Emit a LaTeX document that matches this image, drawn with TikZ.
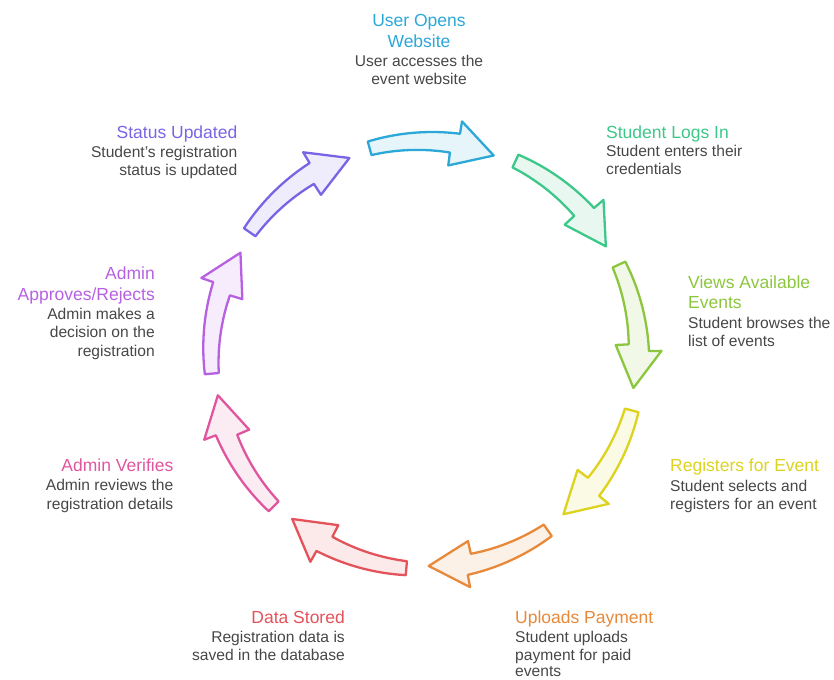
\documentclass[tikz,border=0pt]{standalone}
\usepackage{fontspec}
\setmainfont{Liberation Sans}
\definecolor{cBlue}{HTML}{2BA8D8}
\definecolor{cGreen}{HTML}{3DC789}
\definecolor{cLime}{HTML}{8CC63F}
\definecolor{cYellow}{HTML}{DDD21E}
\definecolor{cOrange}{HTML}{E8893A}
\definecolor{cRed}{HTML}{E4525A}
\definecolor{cPink}{HTML}{E0569E}
\definecolor{cViolet}{HTML}{B761E2}
\definecolor{cPurple}{HTML}{7A64E6}
\definecolor{txtgray}{HTML}{474747}
\tikzset{
  ttl/.style={font=\fontsize{17.5}{20}\selectfont, inner sep=0pt},
  dsc/.style={font=\fontsize{15.6}{18}\selectfont, text=txtgray, inner sep=0pt},
  cyc/.style={line width=2.3pt, line join=round},
}
\newcommand\cycarrow[2]{%
  \draw[cyc, draw=#2, fill=#2!12!white]
    plot[domain=0:1, samples=30] ({#1-34+24*\x}:{221+3*\x})
    -- ({#1-10}:236.5) -- ({#1}:211) -- ({#1-12}:191)
    -- plot[domain=0:1, samples=30] ({#1-12-22*\x}:{204+3*\x})
    -- cycle;}
\begin{document}
\begin{tikzpicture}[x=1pt, y=-1pt]
\useasboundingbox (0,0) rectangle (834,679);
\begin{scope}[shift={(425,355)}]
  \cycarrow{-71}{cBlue}
  \cycarrow{-31}{cGreen}
  \cycarrow{9}{cLime}
  \cycarrow{49}{cYellow}
  \cycarrow{89}{cOrange}
  \cycarrow{129}{cRed}
  \cycarrow{169}{cPink}
  \cycarrow{209}{cViolet}
  \cycarrow{249}{cPurple}
\end{scope}
% User Opens Website
\node[ttl, text=cBlue, anchor=base] (t1a) at (419,26.7) {User Opens};
\node[ttl, text=cBlue, anchor=base] (t1b) at (419,47.7) {Website};
\node[dsc, anchor=base] (d1a) at (419,66.7) {User accesses the};
\node[dsc, anchor=base] (d1b) at (419,85) {event website};
% Student Logs In
\node[ttl, text=cGreen, anchor=base west] (t2a) at (606,138.3) {Student Logs In};
\node[dsc, anchor=base west] (d2a) at (606,156.7) {Student enters their};
\node[dsc, anchor=base west] (d2b) at (606,175) {credentials};
% Views Available Events
\node[ttl, text=cLime, anchor=base west] (t3a) at (688,288.3) {Views Available};
\node[ttl, text=cLime, anchor=base west] (t3b) at (688,308.3) {Events};
\node[dsc, anchor=base west] (d3a) at (688,328.3) {Student browses the};
\node[dsc, anchor=base west] (d3b) at (688,346.7) {list of events};
% Registers for Event
\node[ttl, text=cYellow, anchor=base west] (t4a) at (670,471.7) {Registers for Event};
\node[dsc, anchor=base west] (d4a) at (670,491.7) {Student selects and};
\node[dsc, anchor=base west] (d4b) at (670,509.3) {registers for an event};
% Uploads Payment
\node[ttl, text=cOrange, anchor=base west] (t5a) at (515,623.3) {Uploads Payment};
\node[dsc, anchor=base west] (d5a) at (515,642.3) {Student uploads};
\node[dsc, anchor=base west] (d5b) at (515,660.3) {payment for paid};
\node[dsc, anchor=base west] (d5c) at (515,676.5) {events};
% Data Stored
\node[ttl, text=cRed, anchor=base east] (t6a) at (345,623.3) {Data Stored};
\node[dsc, anchor=base east] (d6a) at (345,642.3) {Registration data is};
\node[dsc, anchor=base east] (d6b) at (345,660.7) {saved in the database};
% Admin Verifies
\node[ttl, text=cPink, anchor=base east] (t7a) at (173.5,471.7) {Admin Verifies};
\node[dsc, anchor=base east] (d7a) at (173.5,490.7) {Admin reviews the};
\node[dsc, anchor=base east] (d7b) at (173.5,509.3) {registration details};
% Admin Approves/Rejects
\node[ttl, text=cViolet, anchor=base east] (t8a) at (155,279.3) {Admin};
\node[ttl, text=cViolet, anchor=base east] (t8b) at (155,300) {Approves/Rejects};
\node[dsc, anchor=base east] (d8a) at (155,319.3) {Admin makes a};
\node[dsc, anchor=base east] (d8b) at (155,337.7) {decision on the};
\node[dsc, anchor=base east] (d8c) at (155,356) {registration};
% Status Updated
\node[ttl, text=cPurple, anchor=base east] (t9a) at (237.5,138.3) {Status Updated};
\node[dsc, anchor=base east] (d9a) at (237.5,157.3) {Student's registration};
\node[dsc, anchor=base east] (d9b) at (237.5,175.7) {status is updated};
\end{tikzpicture}
\end{document}
